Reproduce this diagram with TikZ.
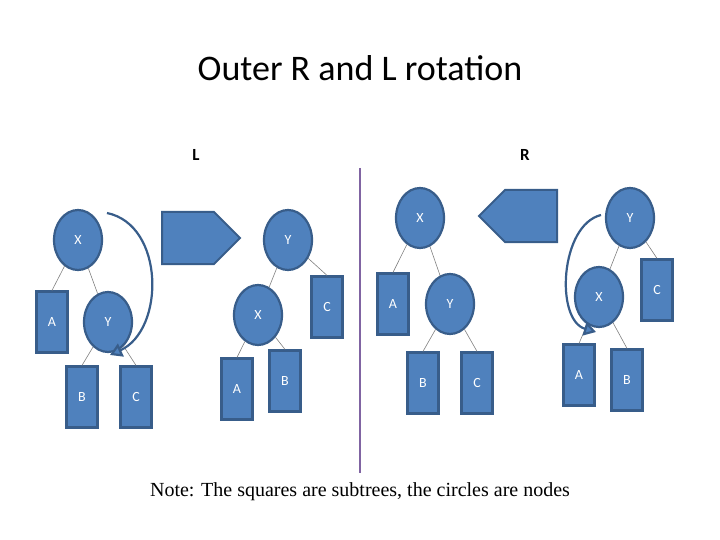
\documentclass[tikz,border=0pt]{standalone}
\usepackage{fontspec}
\setmainfont{Carlito}
\newfontfamily\notefont{Liberation Serif}
\usetikzlibrary{arrows.meta,shapes.arrows,shapes.geometric}
\definecolor{nodeblue}{RGB}{79,129,189}
\definecolor{edgeblue}{RGB}{56,93,138}
\definecolor{divider}{RGB}{128,100,162}
\tikzset{every picture/.style={line width=0.75pt}}

\begin{document}
\begin{tikzpicture}[x=1pt,y=1pt,yscale=-1,xscale=1,
    knot/.style={ellipse,draw=edgeblue,fill=nodeblue,line width=2.2pt,minimum width=48,minimum height=60,inner sep=0pt,text=white,font=\fontsize{14}{16}\selectfont},
    subtree/.style={rectangle,draw=edgeblue,fill=nodeblue,line width=2.2pt,minimum width=31,minimum height=61,inner sep=0pt,text=white,font=\fontsize{14}{16}\selectfont},
    link/.style={draw=gray,line width=0.6pt},
    bigarrow/.style={single arrow,draw=edgeblue,fill=nodeblue,line width=2pt,minimum height=78,minimum width=52,single arrow head extend=0pt,inner sep=0pt},
    turn/.style={draw=edgeblue,line width=2.2pt,-{Triangle[open,length=12pt,width=14pt,fill=nodeblue]}}]
\useasboundingbox (0,0) rectangle (720,540);

% title and headings
\node (title) at (360,68) {\fontsize{36}{40}\selectfont Outer R and L rotation};
\node[font=\fontsize{17}{20}\selectfont\bfseries] (lab-l) at (196,155) {L};
\node[font=\fontsize{17}{20}\selectfont\bfseries] (lab-r) at (525,155) {R};
\node[font=\notefont\fontsize{20}{24}\selectfont] (note) at (360,492) {Note: The squares are subtrees, the circles are nodes};

% divider
\coordinate (div-top) at (360,168);
\coordinate (div-bot) at (360,473);
\draw[divider,line width=2pt] (div-top) -- (div-bot);

% L, before
\node[subtree] (a1) at (52,322) {A};
\node[subtree] (b1) at (82,397) {B};
\node[subtree] (c1) at (136,397) {C};
\node[knot] (x1) at (78,240) {X};
\node[knot] (y1) at (108,322) {Y};
\draw[link] (x1) -- (a1.north);
\draw[link] (x1) -- (y1);
\draw[link] (y1) -- (b1.north);
\draw[link] (y1) -- (c1.north);
\coordinate (turn1-s) at (107,213);
\coordinate (turn1-e) at (110,355);
\draw[turn] (turn1-s) .. controls (165,225) and (165,330) .. (turn1-e);
\node[bigarrow] (go-r) at (188,238) {};

% L, after
\node[subtree] (a2) at (237,389) {A};
\node[subtree] (b2) at (285,381) {B};
\node[subtree] (c2) at (327,307) {C};
\node[knot] (y2) at (288,240) {Y};
\node[knot] (x2) at (258,315) {X};
\draw[link] (y2) -- (x2);
\draw[link] (y2) -- (c2.north);
\draw[link] (x2) -- (a2.north);
\draw[link] (x2) -- (b2.north);

% R, after
\node[subtree] (a3) at (393,304) {A};
\node[subtree] (b3) at (423,383) {B};
\node[subtree] (c3) at (477,383) {C};
\node[knot] (x3) at (420,218) {X};
\node[knot] (y3) at (450,304) {Y};
\draw[link] (x3) -- (a3.north);
\draw[link] (x3) -- (y3);
\draw[link] (y3) -- (b3.north);
\draw[link] (y3) -- (c3.north);
\node[bigarrow,shape border rotate=180] (go-l) at (531,216) {};

% R, before
\node[subtree] (a4) at (579,375) {A};
\node[subtree] (b4) at (627,380) {B};
\node[subtree] (c4) at (657,290) {C};
\node[knot] (y4) at (630,218) {Y};
\node[knot] (x4) at (599,297) {X};
\draw[link] (y4) -- (x4);
\draw[link] (y4) -- (c4.north);
\draw[link] (x4) -- (a4.north);
\draw[link] (x4) -- (b4.north);
\coordinate (turn2-s) at (601,215);
\coordinate (turn2-e) at (596,332);
\draw[turn] (turn2-s) .. controls (560,225) and (555,320) .. (turn2-e);
\end{tikzpicture}
\end{document}
